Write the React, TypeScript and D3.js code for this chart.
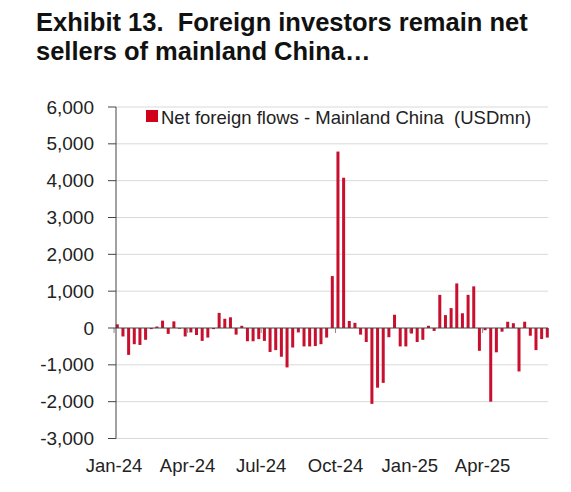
import React from 'react';
import * as d3 from 'd3';

// Weekly net foreign flows into mainland China equities (USDmn)
const firstWeek = new Date(2024, 0, 5);
const lastWeek = new Date(2025, 5, 20);
const weeks = d3.timeFriday.range(firstWeek, d3.timeDay.offset(lastWeek, 1));

const flows = [
  100, -230, -730, -440, -460, -320, -30, 40, 200, -160, 180, -20, -230, -120, -190, -350, -260, -30,
  410, 250, 290, -180, 60, -360, -360, -300, -350, -650, -600, -780, -1070, -530, -120, -500, -500, -490, -440,
  -260, 1410, 4790, 4080, 190, 140, -180, -380, -2060, -1620, -1490, -250, 360, -500, -500, -150, -380, -320, 60,
  -80, 900, 350, 540, 1210, 400, 900, 1130, -620, -60, -2000, -660, -100, 170, 130, -1180, 170, -210, -600, -300, -260,
];

const yTicks = [6000, 5000, 4000, 3000, 2000, 1000, 0, -1000, -2000, -3000];
const titleLines = ['Exhibit 13.  Foreign investors remain net', 'sellers of mainland China…'];
const legendLabel = 'Net foreign flows - Mainland China  (USDmn)';

const W = 571;
const H = 492;
const barColor = '#c8102e';
const font = '"Liberation Sans", Arial, sans-serif';

const locale = d3.formatLocale({ decimal: '.', thousands: ',', grouping: [3], currency: ['$', ''], minus: '-' });

export default function App() {
  const plotLeft = 116;
  const plotRight = 548;

  const x = d3.scaleTime().domain([firstWeek, lastWeek]).range([117.3, 547.3]);
  const y = d3.scaleLinear().domain([-3000, 6000]).range([438.5, 107]);

  // quarterly month ticks, Jan-24 .. Apr-25
  const xTicks = d3.timeMonth.every(3)!.range(new Date(2024, 0, 1), lastWeek);
  const fmtX = d3.timeFormat('%b-%y');
  const fmtY = locale.format(',');
  const barW = 3;

  return (
    <svg width={W} height={H} style={{ position: 'absolute', left: 0, top: 0, background: '#fff' }}
      fontFamily={font}>
      {/* title */}
      {titleLines.map((t, i) => (
        <text key={i} x={36} y={31 + i * 29} fontSize={25.5} fontWeight="bold" fill="#111"
          style={{ whiteSpace: 'pre' }}>{t}</text>
      ))}

      {/* gridlines */}
      {yTicks.filter(v => v !== 0).map(v => (
        <line key={v} x1={plotLeft} x2={plotRight} y1={y(v)} y2={y(v)} stroke="#d9d9d9" strokeWidth={1} />
      ))}

      {/* bars */}
      {flows.map((v, i) => (
        <rect key={i} x={x(weeks[i]) - barW / 2} width={barW}
          y={Math.min(y(v), y(0))} height={Math.abs(y(v) - y(0))} fill={barColor} />
      ))}

      {/* zero line and x ticks */}
      <line x1={plotLeft} x2={plotRight} y1={y(0)} y2={y(0)} stroke="#444" strokeWidth={1} />
      {xTicks.map(d => (
        <line key={+d} x1={x(d)} x2={x(d)} y1={y(0)} y2={y(0) + 5} stroke="#888" strokeWidth={1} />
      ))}

      {/* y axis */}
      <line x1={plotLeft} x2={plotLeft} y1={y(6000)} y2={y(-3000)} stroke="#444" strokeWidth={1} />
      {yTicks.map(v => (
        <g key={v}>
          <line x1={plotLeft - 8} x2={plotLeft} y1={y(v)} y2={y(v)} stroke="#444" strokeWidth={1} />
          <text x={94} y={y(v)} dy="0.35em" textAnchor="end" fontSize={19} fill="#222">{fmtY(v)}</text>
        </g>
      ))}

      {/* x labels */}
      {xTicks.map(d => (
        <text key={+d} x={x(d)} y={472} textAnchor="middle" fontSize={18.5} fill="#222">{fmtX(d)}</text>
      ))}

      {/* legend */}
      <rect x={146} y={110} width={12} height={12} fill="#d0021b" />
      <text x={161} y={123.5} fontSize={18.5} fill="#222" style={{ whiteSpace: 'pre' }}>{legendLabel}</text>
    </svg>
  );
}
